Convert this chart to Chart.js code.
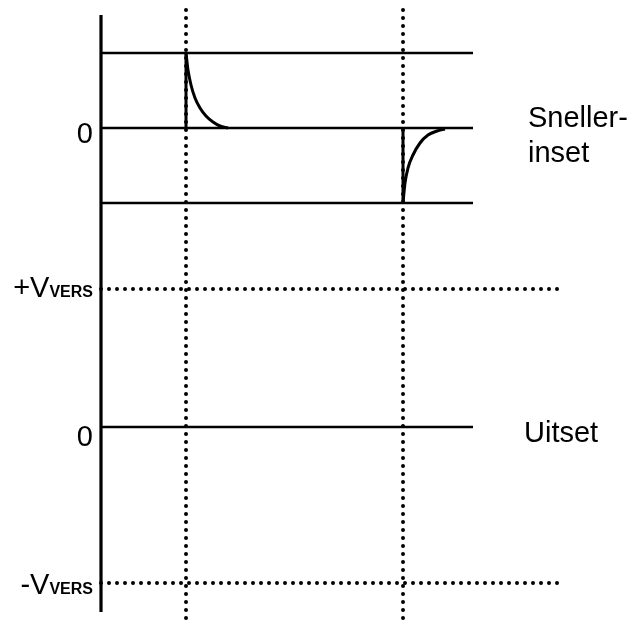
<!DOCTYPE html>
<html>
<head>
<meta charset="utf-8">
<script src="https://cdn.jsdelivr.net/npm/chart.js@4.4.1/dist/chart.umd.min.js"></script>
<style>
  html, body { margin: 0; padding: 0; background: #ffffff; }
  #wrap { width: 641px; height: 626px; position: relative; }
</style>
</head>
<body>
<div id="wrap"><canvas id="c" width="641" height="626"></canvas></div>
<script>
// ---- diagram data (diagram units) ----
const axisX = 101;                       // time origin (vertical axis)
const axisYRange = [15, 612];
const traceEnd = 473;                    // solid traces end
const dottedEnd = 560;                   // dotted reference lines end
const snellerLevels = [53, 128, 203];    // +, 0, − of the "Sneller-inset" trace
const uitsetLevels = [289, 427, 583];    // +V_VERS, 0, −V_VERS of the "Uitset" trace
const switchTimes = [186, 403];          // switching moments
const switchRange = [10, 626];
// spike after first switch (decays from + to 0)
const spike1X = [186, 188, 191, 195, 200, 206, 213, 220, 228];
const spike1Y = [53, 70, 85, 98, 108, 116, 122, 126, 128];
// spike after second switch (recovers from − to 0)
const spike2X = [403, 405, 408, 413, 420, 428, 437, 445];
const spike2Y = [203, 183, 168, 155, 143, 135, 131, 129];
// labels
const levelLabels = ['0', '+V', '0', '-V'];
const subLabel = 'VERS';
const snellerLabel = ['Sneller-', 'inset'];
const uitsetLabel = 'Uitset';

// ---- build datasets ----
const solid = { borderColor: '#000', borderWidth: 2.6, pointRadius: 0, showLine: true, fill: false, tension: 0 };
const dotted = { borderColor: '#000', borderWidth: 4, pointRadius: 0, showLine: true, fill: false,
                 borderDash: [0, 8], borderCapStyle: 'round', tension: 0 };
const datasets = [];
// vertical axis
datasets.push(Object.assign({}, solid, { borderWidth: 3.2, data: [{x: axisX, y: axisYRange[0]}, {x: axisX, y: axisYRange[1]}] }));
// Sneller-inset horizontal lines
snellerLevels.forEach(l => datasets.push(Object.assign({}, solid, { data: [{x: axisX, y: l}, {x: traceEnd, y: l}] })));
// Uitset zero line
datasets.push(Object.assign({}, solid, { data: [{x: axisX, y: uitsetLevels[1]}, {x: traceEnd, y: uitsetLevels[1]}] }));
// dotted +V / -V lines
[uitsetLevels[0], uitsetLevels[2]].forEach(l => datasets.push(Object.assign({}, dotted, { data: [{x: axisX, y: l}, {x: dottedEnd, y: l}] })));
// dotted switch lines
switchTimes.forEach(t => datasets.push(Object.assign({}, dotted, { data: [{x: t, y: switchRange[0]}, {x: t, y: switchRange[1]}] })));
// vertical jumps
datasets.push(Object.assign({}, solid, { borderWidth: 3, data: [{x: switchTimes[0], y: snellerLevels[1]}, {x: switchTimes[0], y: snellerLevels[0]}] }));
datasets.push(Object.assign({}, solid, { borderWidth: 3, data: [{x: switchTimes[1], y: snellerLevels[1]}, {x: switchTimes[1], y: snellerLevels[2]}] }));
// decays
datasets.push(Object.assign({}, solid, { borderWidth: 3, cubicInterpolationMode: 'monotone', data: spike1X.map((x, i) => ({x, y: spike1Y[i]})) }));
datasets.push(Object.assign({}, solid, { borderWidth: 3, cubicInterpolationMode: 'monotone', data: spike2X.map((x, i) => ({x, y: spike2Y[i]})) }));

const labelPlugin = {
  id: 'labels',
  afterDraw(chart) {
    const ctx = chart.ctx, xs = chart.scales.x, ys = chart.scales.y;
    ctx.save();
    ctx.fillStyle = '#000';
    const big = '29px "Liberation Sans", Arial, sans-serif';
    const small = 'bold 16px "Liberation Sans", Arial, sans-serif';
    ctx.textBaseline = 'alphabetic';
    const rightX = xs.getPixelForValue(axisX) - 8;
    // zero labels
    ctx.font = big; ctx.textAlign = 'right';
    ctx.fillText(levelLabels[0], rightX, ys.getPixelForValue(snellerLevels[1]) + 15);
    ctx.fillText(levelLabels[2], rightX, ys.getPixelForValue(uitsetLevels[1]) + 19);
    // V labels with subscript
    function vLabel(main, baseY) {
      ctx.font = small; ctx.textAlign = 'left';
      const sw = ctx.measureText(subLabel).width;
      ctx.font = big;
      const mw = ctx.measureText(main).width;
      const endX = xs.getPixelForValue(axisX) - 8;
      const startX = endX - sw - mw;
      ctx.fillText(main, startX, baseY);
      ctx.font = small;
      ctx.fillText(subLabel, startX + mw, baseY);
    }
    vLabel(levelLabels[1], ys.getPixelForValue(uitsetLevels[0]) + 8);
    vLabel(levelLabels[3], ys.getPixelForValue(uitsetLevels[2]) + 11);
    // right side labels
    ctx.font = big; ctx.textAlign = 'left';
    ctx.fillText(snellerLabel[0], 528, ys.getPixelForValue(snellerLevels[1]) - 1);
    ctx.fillText(snellerLabel[1], 528, ys.getPixelForValue(snellerLevels[1]) + 34);
    ctx.fillText(uitsetLabel, 524, ys.getPixelForValue(uitsetLevels[1]) + 15);
    ctx.restore();
  }
};

new Chart(document.getElementById('c'), {
  type: 'scatter',
  data: { datasets },
  options: {
    responsive: false,
    animation: false,
    events: [],
    layout: { padding: 0 },
    plugins: { legend: { display: false }, tooltip: { enabled: false } },
    scales: {
      x: { type: 'linear', display: false, min: 0, max: 641 },
      y: { type: 'linear', display: false, min: 0, max: 626, reverse: true }
    }
  },
  plugins: [labelPlugin]
});
</script>
</body>
</html>
